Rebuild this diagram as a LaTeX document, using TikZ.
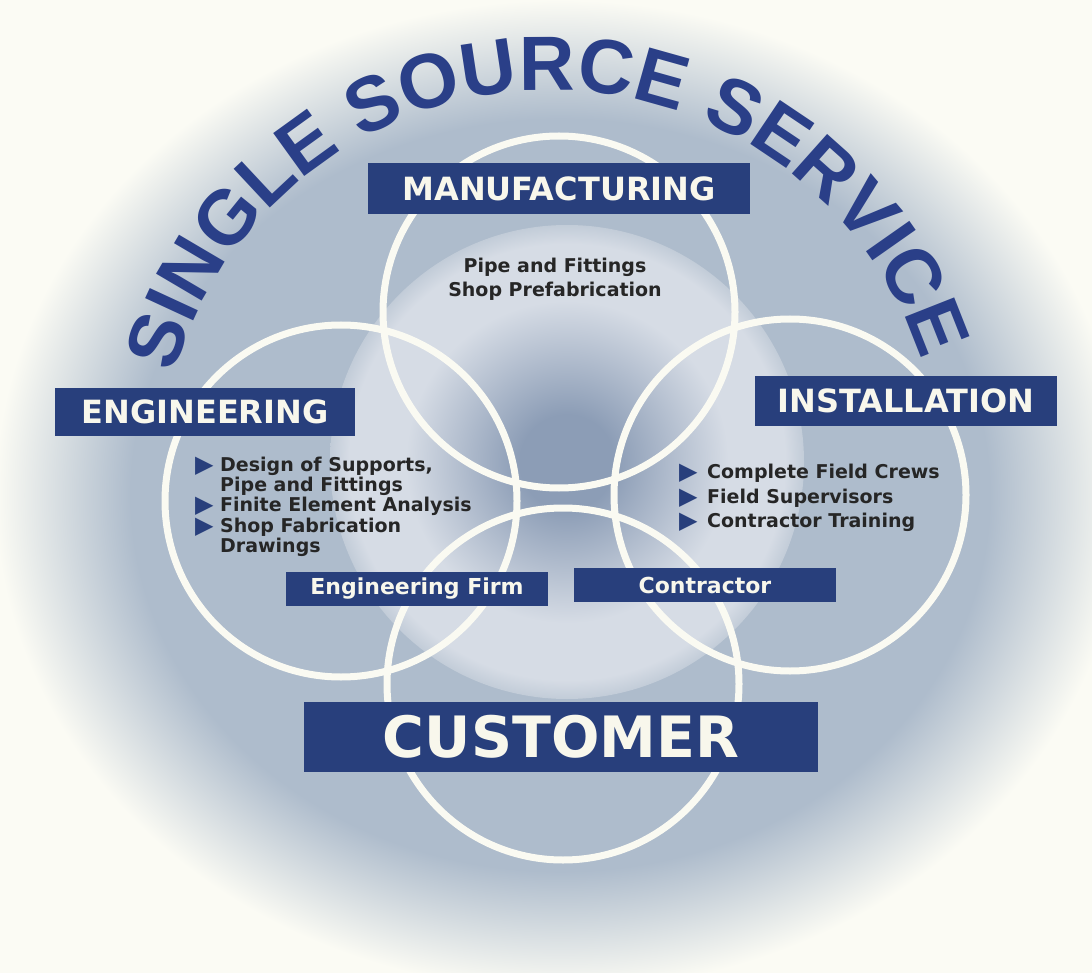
\documentclass[tikz,border=0pt]{standalone}
\usepackage{fontspec}
\setmainfont{DejaVu Sans}
\newfontfamily\arcfont{Liberation Sans}
\usepackage{xcolor}
\usetikzlibrary{positioning, decorations.text}

\definecolor{paper}{HTML}{FBFBF4}
\definecolor{bgmid}{HTML}{AEBCCC}
\definecolor{egglight}{HTML}{D6DCE5}
\definecolor{eggedge}{HTML}{C2CCD8}
\definecolor{eggdark}{HTML}{8C9DB6}
\definecolor{navy}{HTML}{283F7C}
\definecolor{arcblue}{HTML}{2A3F88}
\definecolor{ringwhite}{HTML}{FAFAF2}
\definecolor{cream}{HTML}{F8F7EC}
\definecolor{ink}{HTML}{262626}

\pgfdeclareradialshading{bgglow}{\pgfpoint{0bp}{0bp}}{color(0bp)=(bgmid); color(19bp)=(bgmid); color(25bp)=(paper); color(50bp)=(paper)}
\pgfdeclareradialshading{eggglow}{\pgfpoint{0bp}{0bp}}{color(0bp)=(eggdark); color(5bp)=(eggdark); color(17bp)=(egglight); color(23bp)=(egglight); color(25bp)=(eggedge); color(50bp)=(eggedge)}

\begin{document}
\begin{tikzpicture}[x=1pt, y=1pt,
    ring/.style={draw=ringwhite, line width=7pt},
    bluebox/.style={fill=navy, text=cream, inner sep=0pt, font=\bfseries\fontsize{32}{32}\selectfont},
    smallbox/.style={bluebox, font=\bfseries\fontsize{22}{22}\selectfont},
    bigbox/.style={bluebox, font=\bfseries\fontsize{57}{57}\selectfont},
    itemtext/.style={text=ink, inner sep=0pt, anchor=base west, font=\bfseries\fontsize{19}{19}\selectfont},
    bul/.style={text=navy, inner sep=0pt, anchor=base west, font=\fontsize{24}{24}\selectfont}]

    % page and background glow
    \fill[paper] (0,0) rectangle (1092,-973);
    \useasboundingbox (0,0) rectangle (1092,-973);
    \shade[shading=bgglow] (560,-495) ellipse[x radius=565pt, y radius=495pt];
    \shade[shading=eggglow] (567,-462) circle[radius=237pt];

    % the four rings
    \draw[ring] (559,-312) circle[radius=176pt];
    \draw[ring] (341,-501) circle[radius=176pt];
    \draw[ring] (790,-495) circle[radius=176pt];
    \draw[ring] (563,-684) circle[radius=176pt];

    % title along the arc
    \path[decorate, decoration={text along path, text align=center,
        text={|\arcfont\bfseries\fontsize{77}{77}\selectfont\color{arcblue}|SINGLE SOURCE SERVICE}}]
        (550,-480) ++(164:390pt) arc[start angle=164, end angle=18, radius=390pt];

    % labels
    \node[bluebox, minimum width=382pt, minimum height=51pt] (mfg) at (559,-188.5) {MANUFACTURING};
    \node[bluebox, minimum width=300pt, minimum height=48pt] (eng) at (205,-412) {ENGINEERING};
    \node[bluebox, minimum width=302pt, minimum height=50pt] (inst) at (906,-401) {INSTALLATION};
    \node[smallbox, minimum width=262pt, minimum height=34pt] (firm) at (417,-589) {Engineering Firm};
    \node[smallbox, minimum width=262pt, minimum height=34pt] (contr) at (705,-585) {Contractor};
    \node[bigbox, minimum width=514pt, minimum height=70pt] (cust) at (561,-737) {CUSTOMER};

    % manufacturing
    \node[itemtext, anchor=base] (mfg1) at (555,-273) {Pipe and Fittings};
    \node[itemtext, anchor=base] (mfg2) at (555,-297) {Shop Prefabrication};

    % engineering
    \node[bul] (eb1) at (195,-472) {▶};
    \node[itemtext] (eng1) at (220,-471) {Design of Supports,};
    \node[itemtext] (eng2) at (220,-491) {Pipe and Fittings};
    \node[bul] (eb2) at (195,-512) {▶};
    \node[itemtext] (eng3) at (220,-511) {Finite Element Analysis};
    \node[bul] (eb3) at (195,-533) {▶};
    \node[itemtext] (eng4) at (220,-532) {Shop Fabrication};
    \node[itemtext] (eng5) at (220,-552) {Drawings};

    % installation
    \node[bul] (ib1) at (679,-479) {▶};
    \node[itemtext] (inst1) at (707,-478) {Complete Field Crews};
    \node[bul] (ib2) at (679,-504) {▶};
    \node[itemtext] (inst2) at (707,-503) {Field Supervisors};
    \node[bul] (ib3) at (679,-528) {▶};
    \node[itemtext] (inst3) at (707,-527) {Contractor Training};
\end{tikzpicture}
\end{document}
